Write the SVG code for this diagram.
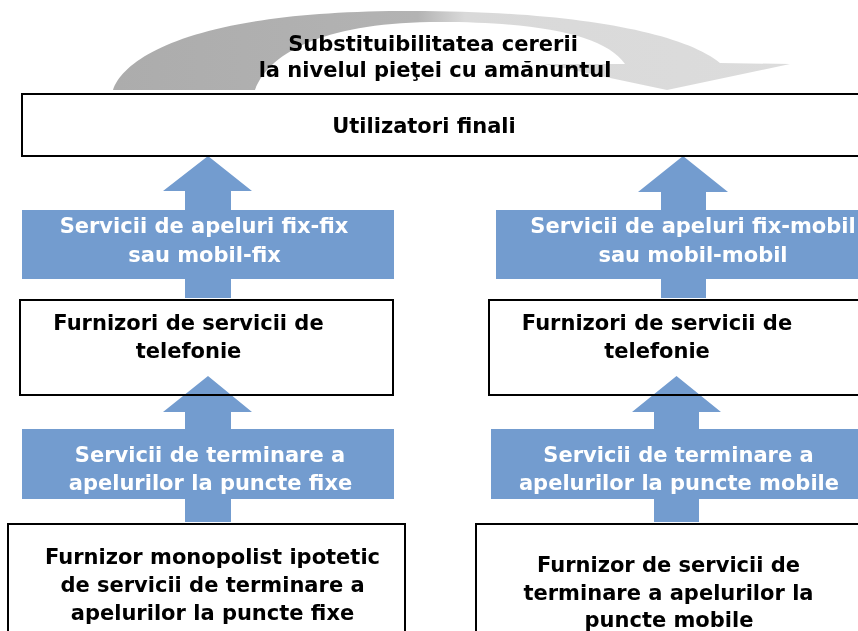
<svg xmlns="http://www.w3.org/2000/svg" width="858" height="631" viewBox="0 0 858 631">
  <style>
    .box { fill: #ffffff; stroke: #000000; stroke-width: 2; }
    .arrow { mix-blend-mode: multiply; }
    .blue { fill: #739ccf; }
    .t { font-family: "DejaVu Sans", Verdana, sans-serif; font-weight: bold; font-size: 21px; text-anchor: middle; fill: #000000; }
    .w { fill: #ffffff; }
  </style>
  <defs>
    <linearGradient id="arcGrad" gradientUnits="userSpaceOnUse" x1="113" y1="0" x2="790" y2="0">
      <stop offset="0" stop-color="#acacac"/>
      <stop offset="0.45" stop-color="#b3b3b3"/>
      <stop offset="0.52" stop-color="#d9d9d9"/>
      <stop offset="1" stop-color="#dcdcdc"/>
    </linearGradient>
  </defs>
  <rect x="0" y="0" width="858" height="631" fill="#ffffff"/>

  <g id="substituibilitate">
    <path d="M113,90 C125,55 200,12 400,11 C560,10 680,30 720,63 L790,64 L667,90 L544,64 L625,64 C605,35 540,22 440,22 C330,22 270,50 255,90 Z" fill="url(#arcGrad)"/>
    <text class="t" x="433" y="51">Substituibilitatea cererii</text>
    <text class="t" x="435" y="77">la nivelul pieţei cu amănuntul</text>
  </g>

  <g id="utilizatori">
    <rect class="box" x="22" y="94" width="850" height="62"/>
    <text class="t" x="424" y="133">Utilizatori finali</text>
  </g>

  <g id="furnizori-stanga">
    <rect class="box" x="20" y="300" width="373" height="95"/>
    <text class="t" x="188.5" y="330">Furnizori de servicii de</text>
    <text class="t" x="188.5" y="358">telefonie</text>
  </g>

  <g id="furnizori-dreapta">
    <rect class="box" x="489" y="300" width="380" height="95"/>
    <text class="t" x="657" y="330">Furnizori de servicii de</text>
    <text class="t" x="657" y="358">telefonie</text>
  </g>

  <g id="furnizor-monopolist">
    <rect class="box" x="8" y="524" width="397" height="120"/>
    <text class="t" x="212.5" y="564">Furnizor monopolist ipotetic</text>
    <text class="t" x="212.5" y="592">de servicii de terminare a</text>
    <text class="t" x="212.5" y="620">apelurilor la puncte fixe</text>
  </g>

  <g id="furnizor-mobil">
    <rect class="box" x="476" y="524" width="400" height="120"/>
    <text class="t" x="668.5" y="572">Furnizor de servicii de</text>
    <text class="t" x="668.5" y="600">terminare a apelurilor la</text>
    <text class="t" x="669" y="627">puncte mobile</text>
  </g>

  <g id="connectors">
    <g id="apeluri-fix" class="arrow">
      <path class="blue" d="M208,156 L252,191 L231,191 L231,298 L185,298 L185,191 L163,191 Z"/>
      <rect class="blue" x="22" y="210" width="372" height="69"/>
      <text class="t w" x="204" y="233">Servicii de apeluri fix-fix</text>
      <text class="t w" x="204.5" y="262">sau mobil-fix</text>
    </g>
    <g id="apeluri-mobil" class="arrow">
      <path class="blue" d="M683,156 L728,192 L706,192 L706,298 L661,298 L661,192 L638,192 Z"/>
      <rect class="blue" x="496" y="210" width="370" height="69"/>
      <text class="t w" x="693" y="233">Servicii de apeluri fix-mobil</text>
      <text class="t w" x="693" y="262">sau mobil-mobil</text>
    </g>
    <g id="terminare-fix" class="arrow">
      <path class="blue" d="M208,376 L252,412 L231,412 L231,522 L185,522 L185,412 L163,412 Z"/>
      <rect class="blue" x="22" y="429" width="372" height="70"/>
      <text class="t w" x="210" y="462">Servicii de terminare a</text>
      <text class="t w" x="210.5" y="490">apelurilor la puncte fixe</text>
    </g>
    <g id="terminare-mobil" class="arrow">
      <path class="blue" d="M676.5,376 L721,412 L699,412 L699,522 L654,522 L654,412 L632,412 Z"/>
      <rect class="blue" x="491" y="429" width="375" height="70"/>
      <text class="t w" x="678.5" y="462">Servicii de terminare a</text>
      <text class="t w" x="679" y="490">apelurilor la puncte mobile</text>
    </g>
  </g>
</svg>
